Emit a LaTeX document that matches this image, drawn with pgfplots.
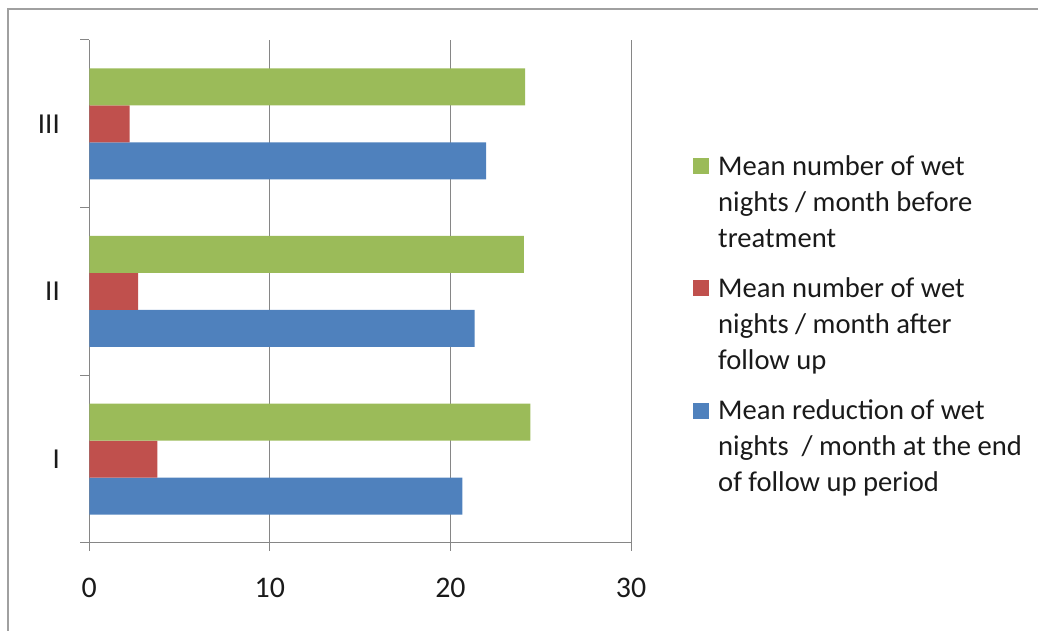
\documentclass[border=0pt]{standalone}
\usepackage{fontspec}
\setmainfont{Carlito}
\usepackage{pgfplots}
\pgfplotsset{compat=1.18}
\definecolor{cblue}{HTML}{4F81BD}
\definecolor{cred}{HTML}{C0504D}
\definecolor{cgreen}{HTML}{9BBB59}
\definecolor{axgray}{HTML}{868686}
\definecolor{framegray}{HTML}{A0A0A0}
\definecolor{txt}{HTML}{1A1A1A}
\begin{document}
\begin{tikzpicture}[x=1bp,y=1bp]
\useasboundingbox (0,0) rectangle (1038,631);
\draw[framegray, line width=2bp] (8,-5) -- (8,622) -- (1045,622);
\begin{axis}[
  at={(89.3bp,88bp)}, anchor=south west,
  scale only axis, width=541.7bp, height=503bp,
  xbar, bar width=37bp,
  xmin=0, xmax=30, ymin=-0.5, ymax=2.5,
  xtick={0,10,20,30},
  ytick={0,1,2}, yticklabels={I,II,III},
  minor ytick={-0.5,0.5,1.5,2.5},
  axis lines*=left,
  axis line style={axgray, line width=1bp},
  xmajorgrids, major grid style={axgray, line width=1bp},
  tick align=outside,
  major tick length=8bp, minor tick length=9bp,
  major y tick style={draw=none},
  minor y tick style={axgray, line width=1bp},
  major x tick style={axgray, line width=1bp},
  /pgf/number format/assume math mode=true,
  xticklabel style={font=\fontsize{30}{36}\selectfont, text=txt, yshift=-24bp},
  yticklabel style={font=\fontsize{29}{35}\selectfont, text=txt, xshift=-18bp},
  reverse legend,
  legend style={at={(1.1145,0.774)}, anchor=north west, draw=none, fill=none,
    inner sep=0pt, row sep=25bp, column sep=7bp,
    font=\fontsize{28.7}{36}\selectfont, text=txt,
    cells={align=left, anchor=west}},
  legend image code/.code={\path[fill=none, draw=none] (0bp,-44bp) rectangle (16bp,44bp);
    \fill[#1, draw=none] (0bp,28bp) rectangle (16bp,44bp);},
]
\addplot[fill=cblue, draw=none, bar shift=-37bp] coordinates {(20.66,0) (21.34,1) (21.97,2)};
\addlegendentry{Mean reduction of wet\\nights~ / month at the end\\of follow up period}
\addplot[fill=cred, draw=none, bar shift=0bp] coordinates {(3.77,0) (2.71,1) (2.24,2)};
\addlegendentry{Mean number of wet\\nights / month after\\follow up}
\addplot[fill=cgreen, draw=none, bar shift=37bp] coordinates {(24.42,0) (24.06,1) (24.13,2)};
\addlegendentry{Mean number of wet\\nights / month before\\treatment}
\end{axis}
\end{tikzpicture}
\end{document}
